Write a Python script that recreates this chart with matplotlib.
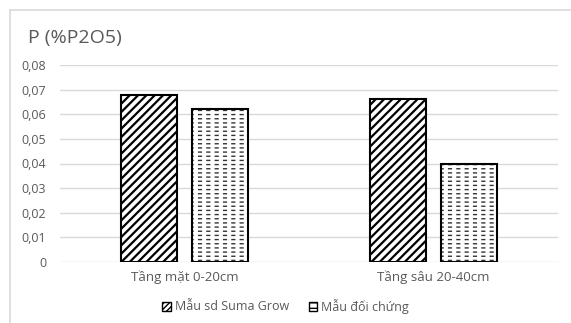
import matplotlib
matplotlib.use("Agg")
import matplotlib.pyplot as plt
import numpy as np
from matplotlib.patches import Rectangle
from matplotlib.lines import Line2D

plt.rcParams['font.family'] = ['Open Sans', 'DejaVu Sans']

categories = ["Tầng mặt 0-20cm", "Tầng sâu 20-40cm"]
series_names = ["Mẫu sd Suma Grow", "Mẫu đối chứng"]
suma_grow = [0.068, 0.066]
control = [0.062, 0.040]
y_ticks = [0, 0.01, 0.02, 0.03, 0.04, 0.05, 0.06, 0.07, 0.08]
y_tick_labels = ["0", "0,01", "0,02", "0,03", "0,04", "0,05", "0,06", "0,07", "0,08"]

TEXT = "#595959"
GRID = "#d9d9d9"

fig = plt.figure(figsize=(5.71, 3.23), dpi=100)
fig.patch.set_facecolor("white")

# light frame around the chart area
fig.add_artist(Line2D([10/571, 10/571], [0, 1 - 10/323], transform=fig.transFigure,
                      color=GRID, lw=1.2))
fig.add_artist(Line2D([10/571, 1], [1 - 10/323, 1 - 10/323], transform=fig.transFigure,
                      color=GRID, lw=1.2))

ax = fig.add_axes([60/571, 1 - 262/323, 498/571, (262 - 65)/323])
ax.set_xlim(-0.5, 1.5)
ax.set_ylim(0, 0.08)

x = np.arange(len(categories))
w = 0.225
off = 0.1425


def set_hlw(patches, lw):
    for p in patches:
        try:
            p.set_hatch_linewidth(lw)
        except AttributeError:
            pass


with plt.rc_context({'hatch.linewidth': 1.6}):
    b1 = ax.bar(x - off, suma_grow, w, color="white", edgecolor="black",
                hatch="////", linewidth=0, zorder=3)
set_hlw(b1, 1.6)
ax.bar(x - off, suma_grow, w, color="none", edgecolor="black", linewidth=1.5, zorder=4)

with plt.rc_context({'hatch.linewidth': 1.0}):
    b2 = ax.bar(x + off, control, w, color="white", edgecolor="#333333",
                hatch="----", linewidth=0, zorder=3)
set_hlw(b2, 1.0)
# white vertical hatch breaks the horizontal lines into dashes
with plt.rc_context({'hatch.linewidth': 3.0}):
    b3 = ax.bar(x + off, control, w, color="none", edgecolor="white",
                hatch="||", linewidth=0, zorder=3.5)
set_hlw(b3, 3.0)
ax.bar(x + off, control, w, color="none", edgecolor="black", linewidth=1.5, zorder=4)

ax.set_yticks(y_ticks)
ax.set_yticklabels(y_tick_labels)
ax.set_xticks(x)
ax.set_xticklabels(categories)
ax.tick_params(axis="both", length=0, colors=TEXT, labelsize=9)
ax.tick_params(axis="y", pad=10)
ax.tick_params(axis="x", pad=6)
ax.tick_params(axis="x", labelsize=9.5)
ax.grid(axis="y", color=GRID, lw=1.0, zorder=0)
for s in ax.spines.values():
    s.set_visible(False)

fig.text(28/571, 1 - 38/323, "P (%P2O5)", fontsize=14, color=TEXT, va="center", ha="left")

h1 = Rectangle((0, 0), 1, 1, facecolor="white", edgecolor="black", hatch="//////", lw=1.0)
h2 = Rectangle((0, 0), 1, 1, facecolor="white", edgecolor="black", hatch="---", lw=1.0)
leg = fig.legend([h1, h2], series_names, loc="center", bbox_to_anchor=(0.5, 1 - 306/323),
                 ncol=2, frameon=False, fontsize=9, handlelength=0.7, handleheight=0.7,
                 handletextpad=0.3, columnspacing=1.6, labelcolor=TEXT)

fig.savefig("out.png", dpi=100)
